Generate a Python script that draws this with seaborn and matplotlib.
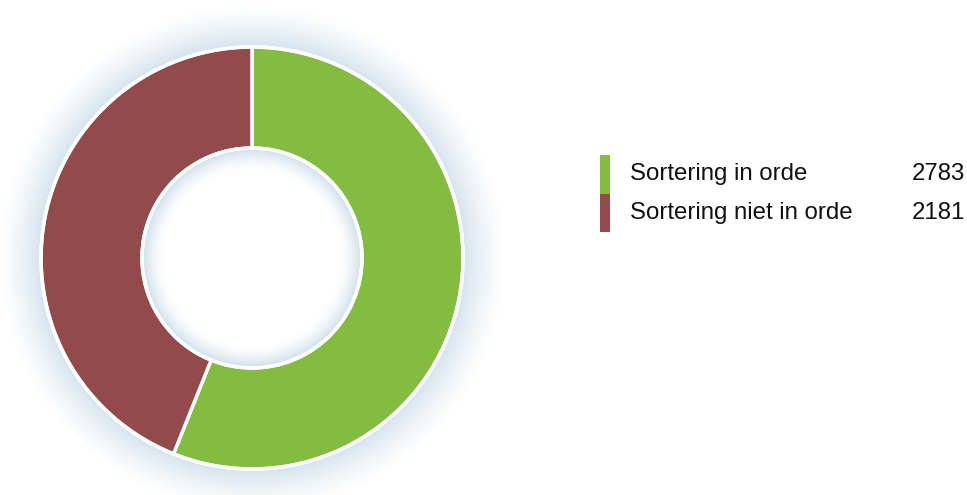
import numpy as np
import matplotlib
matplotlib.use("Agg")
import matplotlib.pyplot as plt
import seaborn as sns
from matplotlib.patches import Rectangle, Circle

categories = ["Sortering in orde", "Sortering niet in orde"]
values = [2783, 2181]
colors = ["#84BB41", "#934A4A"]

sns.set_theme(style="white")
plt.rcParams["font.family"] = ["Liberation Sans", "DejaVu Sans"]

W, H = 967, 495
fig = plt.figure(figsize=(W / 100, H / 100), dpi=100)
ax = fig.add_axes([0, 0, 1, 1])

cx, cy = 252, H - 258
R_out, R_in = 211, 110

# glow (radial gradient image)
yy, xx = np.mgrid[0:H, 0:W] + 0.5
d = np.hypot(xx - cx, (H - yy) - cy)
alpha = np.zeros_like(d)
t = (d - R_out) / 42.0
m = (t >= 0) & (t <= 1)
alpha[m] = 0.5 * (1 - t[m]) ** 1.3
t2 = (R_in - d) / 22.0
m2 = (t2 >= 0) & (t2 <= 1)
alpha[m2] = 0.6 * (1 - t2[m2]) ** 1.5
img = np.zeros((H, W, 4))
img[..., 0] = 172 / 255
img[..., 1] = 200 / 255
img[..., 2] = 220 / 255
img[..., 3] = alpha
ax.imshow(img, extent=[0, W, 0, H], origin="upper", zorder=0, interpolation="bilinear")

ax.pie(values, colors=colors, startangle=90, counterclock=False,
       center=(cx, cy), radius=R_out,
       wedgeprops=dict(width=R_out - R_in, edgecolor="white", linewidth=2.5),
       frame=True)
ax.add_patch(Circle((cx, cy), R_out, fill=False, edgecolor="white", linewidth=2.5, zorder=5))
ax.add_patch(Circle((cx, cy), R_in, fill=False, edgecolor="white", linewidth=2.5, zorder=5))

ax.set_xlim(0, W)
ax.set_ylim(0, H)
ax.set_aspect("equal")
ax.axis("off")

# legend
top = H - 155
row_h = 38.5
for i, (c, v, col) in enumerate(zip(categories, values, colors)):
    y0 = top - (i + 1) * row_h
    ax.add_patch(Rectangle((600, y0), 10, row_h, facecolor=col, edgecolor="none", zorder=6))
    ax.text(630, y0 + row_h / 2, c, fontsize=17.3, va="center", ha="left", color="#111111")
    ax.text(965, y0 + row_h / 2, str(v), fontsize=17.3, va="center", ha="right", color="#111111")

fig.savefig("out.png", dpi=100)
